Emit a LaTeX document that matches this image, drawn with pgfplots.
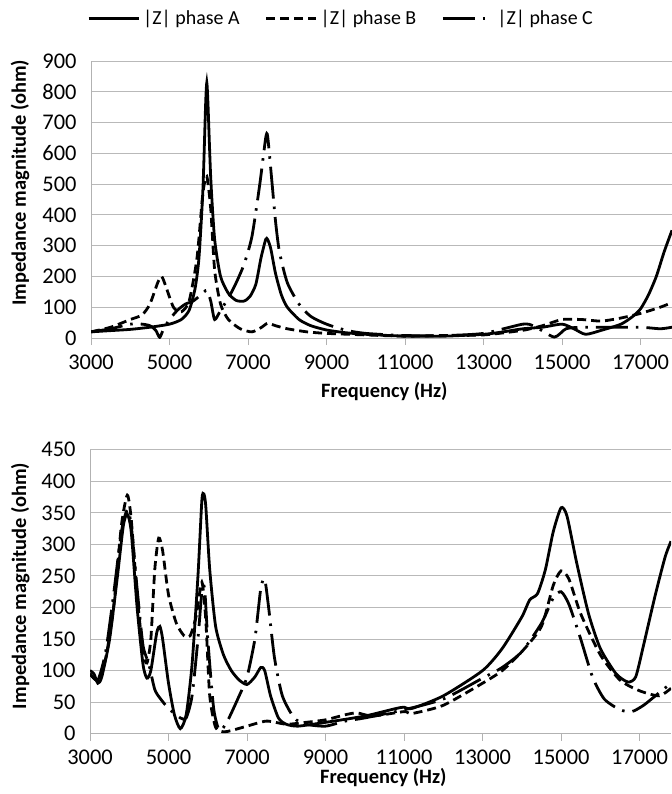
\documentclass[border=0pt]{standalone}
\usepackage{pgfplots}
\pgfplotsset{compat=1.18}
\usepackage{fontspec}
\setmainfont{Carlito}
\begin{document}
\begin{tikzpicture}
\useasboundingbox (0bp,0bp) rectangle (672bp,-794bp);
\pgfplotsset{
  myax/.style={
    scale only axis, width=581bp,
    xmin=3000, xmax=17800,
    xtick={3000,5000,...,17000},
    scaled x ticks=false,
    axis x line*=bottom, axis y line*=left,
    axis line style={draw=gray!60, line width=1bp, -},
    ymajorgrids, grid style={draw=gray!55, line width=1bp},
    tick align=outside, major tick length=7bp,
    xtick style={draw=gray!60, line width=1bp},
    ytick style={draw=none},
    /pgf/number format/assume math mode=true,
    /pgf/number format/set thousands separator={},
    tick label style={font=\fontsize{22.5}{25}\selectfont},
    yticklabel style={xshift=-4bp},
    xticklabel style={yshift=-6bp},
    label style={font=\bfseries\fontsize{20.5}{24}\selectfont, anchor=center},
    xlabel={Frequency (Hz)},
    ylabel={Impedance magnitude (ohm)},
    clip=true,
  },
  A/.style={black, line width=2.8bp, smooth, tension=0.4},
  B/.style={black, line width=2.8bp, dash pattern=on 9bp off 5bp, smooth, tension=0.4},
  C/.style={black, line width=2.8bp, dash pattern=on 32bp off 8bp on 2.5bp off 8bp, smooth, tension=0.4},
}
\begin{axis}[myax, at={(91bp,-338bp)}, anchor=south west, height=277bp,
  ymin=0, ymax=900, ytick={0,100,...,900},
  ylabel style={at={(axis description cs:-0.122,0.56)}},
  xlabel style={at={(axis description cs:0.505,-0.195)}},
  legend columns=3,
  legend style={at={(axis description cs:-0.012,1.155)}, anchor=west, draw=none, fill=none,
    font=\fontsize{20}{24}\selectfont, column sep=0bp,
    nodes={inner xsep=3bp},
    /tikz/every even column/.append style={column sep=22bp}},
  legend image code/.code={\draw[#1, line width=3bp] (0bp,0bp) -- (50bp,0bp);},
]
\addplot[A] coordinates {(3000,20)(3500,24)(4000,28)(4500,35)(5000,45)(5300,60)(5500,90)(5650,160)(5750,260)(5850,480)(5920,760)(5950,830)(5980,760)(6050,520)(6150,320)(6300,200)(6500,145)(6700,122)(6900,120)(7050,135)(7200,175)(7330,260)(7450,320)(7500,320)(7580,290)(7700,210)(7850,140)(8000,100)(8300,60)(8600,40)(9000,26)(9500,17)(10000,12)(11000,6)(12000,6)(13000,12)(13500,20)(14000,30)(14500,35)(15000,45)(15300,30)(15600,12)(16000,25)(16500,45)(16800,70)(17000,95)(17200,140)(17400,200)(17600,280)(17800,350)};
\addlegendentry{|Z| phase A}
\addplot[B] coordinates {(3000,20)(3500,35)(4000,60)(4300,75)(4500,110)(4700,180)(4800,200)(4900,170)(5100,100)(5300,85)(5500,120)(5700,260)(5850,470)(5950,525)(6050,420)(6150,220)(6300,110)(6500,60)(6800,30)(7100,20)(7350,35)(7500,48)(7700,40)(8000,30)(8500,20)(9000,15)(10000,10)(11000,6)(12000,8)(13000,10)(14000,25)(14500,40)(15000,60)(15500,60)(16000,55)(16500,65)(17000,80)(17500,100)(17800,115)};
\addlegendentry{|Z| phase B}
\addplot[C] coordinates {(3000,20)(3500,30)(4000,45)(4300,45)(4500,40)(4650,25)(4750,2)(4850,30)(5000,60)(5200,90)(5400,110)(5600,120)(5800,140)(5950,155)(6050,120)(6150,60)(6300,90)(6500,130)(6700,180)(6900,240)(7100,330)(7300,500)(7450,650)(7500,655)(7600,520)(7700,380)(7800,280)(8000,180)(8300,110)(8600,70)(9000,45)(9500,25)(10000,15)(11000,8)(12000,8)(13000,15)(14000,45)(14300,38)(14800,3)(15100,30)(15500,35)(16000,35)(17000,35)(17500,30)(17800,35)};
\addlegendentry{|Z| phase C}
\end{axis}
\begin{axis}[myax, at={(90bp,-733.7bp)}, anchor=south west, height=284bp,
  ymin=0, ymax=450, ytick={0,50,...,450},
  ylabel style={at={(axis description cs:-0.12,0.52)}},
  xlabel style={at={(axis description cs:0.505,-0.156)}},
]
\addplot[A] coordinates {(3000,100)(3100,95)(3200,80)(3300,90)(3500,150)(3700,250)(3850,330)(3950,348)(4050,320)(4200,200)(4350,110)(4450,88)(4550,100)(4700,160)(4780,170)(4850,150)(5000,80)(5150,30)(5300,8)(5450,30)(5600,110)(5750,250)(5850,370)(5900,380)(5950,360)(6050,260)(6200,170)(6400,125)(6600,100)(6800,85)(7000,78)(7200,90)(7350,105)(7450,100)(7600,60)(7800,25)(8000,15)(8300,12)(9000,18)(10000,28)(10800,40)(11000,42)(11200,40)(12000,60)(13000,100)(13500,135)(14000,185)(14200,212)(14400,222)(14600,260)(14800,320)(15000,358)(15150,345)(15400,270)(15700,190)(16000,135)(16400,95)(16700,82)(16900,90)(17100,140)(17400,220)(17650,280)(17800,305)};
\addplot[B] coordinates {(3000,95)(3200,85)(3400,120)(3600,200)(3800,330)(3950,378)(4050,340)(4200,220)(4350,130)(4450,112)(4550,150)(4650,260)(4750,310)(4850,290)(5000,220)(5200,175)(5400,155)(5550,155)(5700,185)(5850,240)(5950,180)(6050,60)(6200,10)(6400,3)(6600,5)(7000,12)(7500,20)(8000,15)(8500,18)(9000,22)(9500,30)(9800,33)(10200,28)(11000,35)(11200,32)(12000,45)(13000,80)(13500,100)(14000,130)(14500,170)(14800,235)(15000,258)(15200,245)(15500,190)(16000,125)(16500,85)(17000,68)(17500,60)(17800,72)};
\addplot[C] coordinates {(3000,95)(3200,85)(3400,130)(3600,220)(3800,320)(3950,355)(4050,330)(4200,230)(4350,140)(4500,110)(4650,70)(4800,55)(5000,40)(5300,25)(5450,25)(5600,60)(5750,150)(5850,225)(5920,230)(6000,150)(6150,40)(6300,5)(6500,20)(6800,60)(7000,90)(7200,150)(7350,230)(7450,245)(7550,200)(7700,120)(7900,60)(8200,25)(8500,15)(9000,12)(9500,20)(10000,25)(11000,38)(12000,55)(13000,88)(13500,105)(14000,130)(14500,175)(14800,215)(15000,225)(15200,205)(15500,150)(15800,90)(16100,55)(16500,38)(16800,35)(17100,45)(17500,65)(17800,80)};
\end{axis}
\end{tikzpicture}
\end{document}
